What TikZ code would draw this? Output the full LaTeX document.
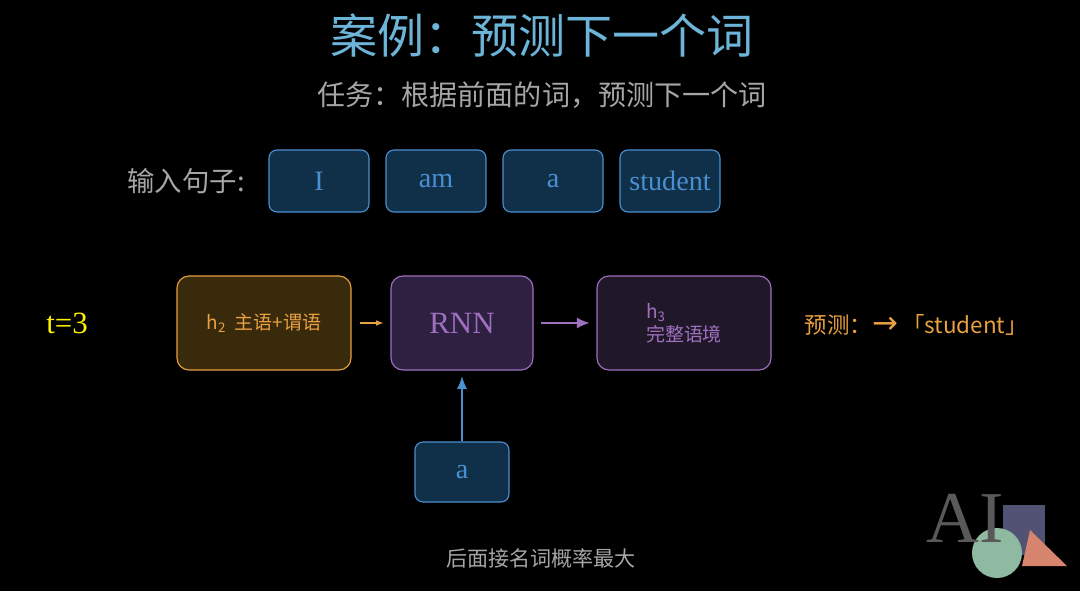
\documentclass[tikz,border=0pt]{standalone}
\usepackage{fontspec}
\setmainfont{Liberation Serif}
\newfontfamily\cjk{Noto Sans CJK SC}
\usetikzlibrary{positioning}
\usetikzlibrary{arrows.meta}
\definecolor{title colour}{HTML}{6CB4D8}
\definecolor{word colour}{HTML}{4A90D0}
\definecolor{word fill}{HTML}{10304A}
\definecolor{state colour}{HTML}{E8A040}
\definecolor{state fill}{HTML}{3A2A0C}
\definecolor{rnn colour}{HTML}{A070C0}
\definecolor{rnn fill}{HTML}{2E2040}
\definecolor{out fill}{HTML}{201828}
\definecolor{logo square}{HTML}{525275}
\definecolor{logo triangle}{HTML}{D6846E}
\definecolor{logo circle}{HTML}{8FB9A0}
\colorlet{grey text}{black!35}
\tikzset{
    >=latex,
    every node/.style={align=center},
    word/.style={draw=word colour, fill=word fill, text=word colour, rounded corners=2mm,
        thick, minimum width=25mm, minimum height=15.5mm, font=\fontsize{20}{22}\selectfont},
    big box/.style={rounded corners=3mm, thick, minimum width=43.5mm, minimum height=23.5mm},
}
\begin{document}
\begin{tikzpicture}[x=0.25mm, y=-0.25mm]
\fill[black] (0,0) rectangle (1080,591);

% title lines
\node (title) [text=title colour, font=\cjk\fontsize{33.5}{38}\selectfont] at (542,35) {案例：预测下一个词};
\node (task) [text=grey text, font=\cjk\fontsize{20}{24}\selectfont] at (542,95) {任务：根据前面的词，预测下一个词};

% input sentence
\node (input) [text=grey text, font=\cjk\fontsize{19.5}{22}\selectfont] at (186,181) {输入句子:};
\node (w1) [word] at (319,181) {I};
\node (w2) [word] at (436,181) {am};
\node (w3) [word] at (553,181) {a};
\node (w4) [word] at (670,181) {student};

% one time step
\node (time) [text=yellow, font=\fontsize{22}{24}\selectfont] at (67,323) {t=3};
\node (hprev) [big box, draw=state colour, fill=state fill, text=state colour,
    font=\cjk\fontsize{13.5}{16}\selectfont] at (264,323) {h\textsubscript{2}\ \ 主语+谓语};
\node (rnn) [big box, draw=rnn colour, fill=rnn fill, text=rnn colour, minimum width=35.5mm,
    font=\fontsize{22}{24}\selectfont] at (462,323) {RNN};
\node (hnext) [big box, draw=rnn colour, fill=out fill, text=rnn colour, align=left,
    font=\cjk\fontsize{13.5}{16}\selectfont] at (684,323) {h\textsubscript{3}\\完整语境};
\node (xin) [word, minimum width=23.5mm, minimum height=15mm] at (462,472) {a};
\node (pred) [text=state colour, font=\cjk\fontsize{16}{18}\selectfont, anchor=west] at (800,325)
    {预测：{\fontspec{DejaVu Sans}\fontsize{22}{24}\selectfont→}\,「student」};

\draw [->, state colour, thick, shorten <=6pt, shorten >=5pt] (hprev) -- (rnn);
\draw [-{Latex[length=9pt,width=8pt]}, rnn colour, very thick, shorten <=5pt, shorten >=5pt] (rnn) -- (hnext);
\draw [-{Latex[length=9pt,width=7pt]}, word colour, thick, shorten >=4pt] (xin) -- (rnn);

\node (note) [text=grey text, font=\cjk\fontsize{15}{17}\selectfont] at (541,558) {后面接名词概率最大};

% logo
\fill[logo square] (1003,505) rectangle (1045,555);
\fill[logo triangle] (1030,530) -- (1067,566) -- (1022,566) -- cycle;
\fill[logo circle] (997,553) circle (25);
\node (logo) [text=black!65, font=\fontsize{52}{56}\selectfont] at (965,518) {AI};
\end{tikzpicture}
\end{document}
